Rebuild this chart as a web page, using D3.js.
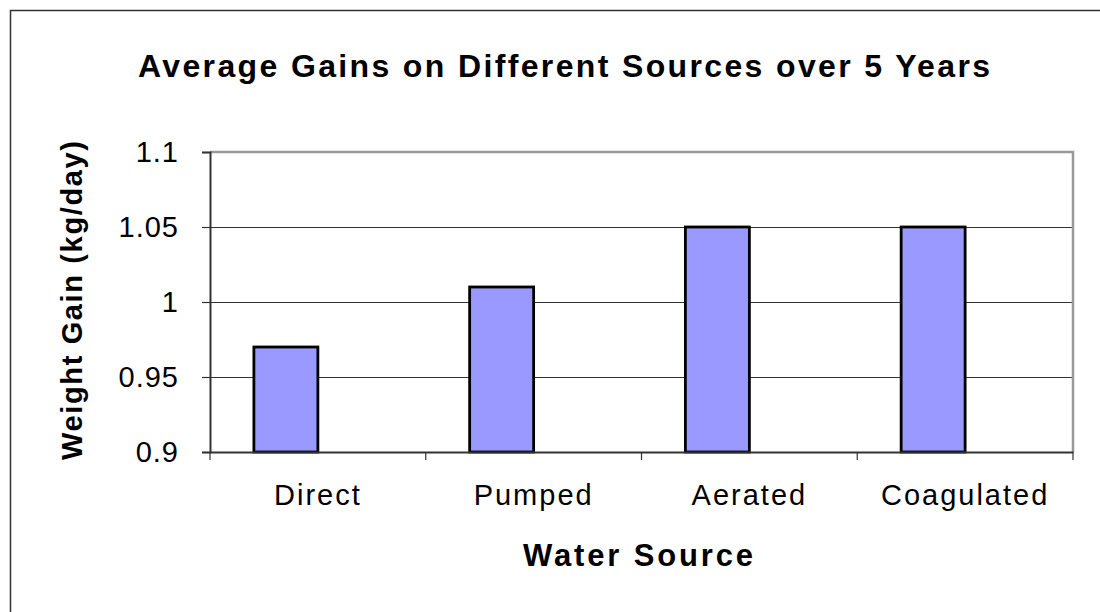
<!DOCTYPE html>
<html>
<head>
<meta charset="utf-8">
<script src="https://cdn.jsdelivr.net/npm/d3@7"></script>
<style>
  html, body { margin: 0; padding: 0; background: #fff; }
  svg { display: block; }
  text { font-family: "Liberation Sans", Arial, sans-serif; fill: #000; }
</style>
</head>
<body>
<svg id="chart" width="1100" height="612"></svg>
<script>
const categories = ["Direct", "Pumped", "Aerated", "Coagulated"];
const gains = [0.97, 1.01, 1.05, 1.05];
const seriesSlots = ["Average gain", "(unused)"];
const yTicks = [0.9, 0.95, 1, 1.05, 1.1];
const titleText = "Average Gains on Different Sources over 5 Years";
const xTitleText = "Water Source";
const yTitleText = "Weight Gain (kg/day)";

const svg = d3.select("#chart");
const plot = { left: 210, right: 1073, top: 152, bottom: 452 };

// outer chart border
svg.append("rect")
  .attr("x", 10.5).attr("y", 10.5)
  .attr("width", 1200).attr("height", 700)
  .attr("fill", "#fff").attr("stroke", "#333").attr("stroke-width", 1.5);

const x = d3.scaleBand().domain(categories).range([plot.left, plot.right]).padding(0);
const xs = d3.scaleBand().domain(seriesSlots).range([0, x.bandwidth()]).paddingInner(0).paddingOuter(0.686);
const y = d3.scaleLinear().domain([0.9, 1.1]).range([plot.bottom, plot.top]);

// gridlines
svg.append("g").selectAll("line")
  .data(yTicks.slice(1, -1))
  .join("line")
  .attr("x1", plot.left).attr("x2", plot.right)
  .attr("y1", d => Math.round(y(d)) + 0.5).attr("y2", d => Math.round(y(d)) + 0.5)
  .attr("stroke", "#333").attr("stroke-width", 1);

// plot frame top and right (grey)
svg.append("path")
  .attr("d", `M${plot.left},${plot.top} H${plot.right} V${plot.bottom}`)
  .attr("fill", "none").attr("stroke", "#999").attr("stroke-width", 2.5);

// bars
svg.append("g").selectAll("rect")
  .data(categories.map((c, i) => ({ c, v: gains[i] })))
  .join("rect")
  .attr("x", d => x(d.c) + xs(seriesSlots[0]))
  .attr("width", xs.bandwidth())
  .attr("y", d => y(d.v))
  .attr("height", d => y(0.9) - y(d.v))
  .attr("fill", "#9999FF")
  .attr("stroke", "#000").attr("stroke-width", 2.8);

// y axis
const yAxis = svg.append("g")
  .attr("transform", `translate(${plot.left},0)`)
  .call(d3.axisLeft(y).tickValues(yTicks).tickSize(8).tickPadding(23).tickFormat(d => String(d)));
yAxis.select(".domain").attr("stroke", "#333").attr("stroke-width", 2);
yAxis.selectAll(".tick line").attr("stroke", "#333").attr("stroke-width", 1.2);
yAxis.selectAll(".tick text")
  .attr("font-size", 29).attr("letter-spacing", "1px")
  .attr("font-family", "Liberation Sans, Arial, sans-serif").attr("fill", "#000");

// x axis
const xAxis = svg.append("g")
  .attr("transform", `translate(0,${plot.bottom})`)
  .call(d3.axisBottom(x).tickSize(0).tickFormat(d => d));
xAxis.select(".domain").attr("stroke", "#333").attr("stroke-width", 2);
xAxis.selectAll(".tick text")
  .attr("y", 32.5).attr("dy", "0.71em")
  .attr("font-size", 29).attr("letter-spacing", "2px")
  .attr("font-family", "Liberation Sans, Arial, sans-serif").attr("fill", "#000");
// category boundary tick marks
xAxis.append("g").selectAll("line")
  .data(categories.map(c => x(c)).concat([plot.right]))
  .join("line")
  .attr("x1", d => d).attr("x2", d => d)
  .attr("y1", 0).attr("y2", 8)
  .attr("stroke", "#333").attr("stroke-width", 1.2);

// title
svg.append("text")
  .attr("x", 564).attr("y", 77)
  .attr("text-anchor", "middle")
  .attr("font-size", 32).attr("font-weight", "bold")
  .attr("textLength", 852).attr("lengthAdjust", "spacing")
  .text(titleText);

// x axis title
svg.append("text")
  .attr("x", 638).attr("y", 566)
  .attr("text-anchor", "middle")
  .attr("font-size", 31).attr("font-weight", "bold")
  .attr("textLength", 230).attr("lengthAdjust", "spacing")
  .text(xTitleText);

// y axis title
svg.append("text")
  .attr("transform", "translate(82,300.5) rotate(-90)")
  .attr("text-anchor", "middle")
  .attr("font-size", 29).attr("font-weight", "bold")
  .attr("textLength", 319).attr("lengthAdjust", "spacing")
  .text(yTitleText);
</script>
</body>
</html>
